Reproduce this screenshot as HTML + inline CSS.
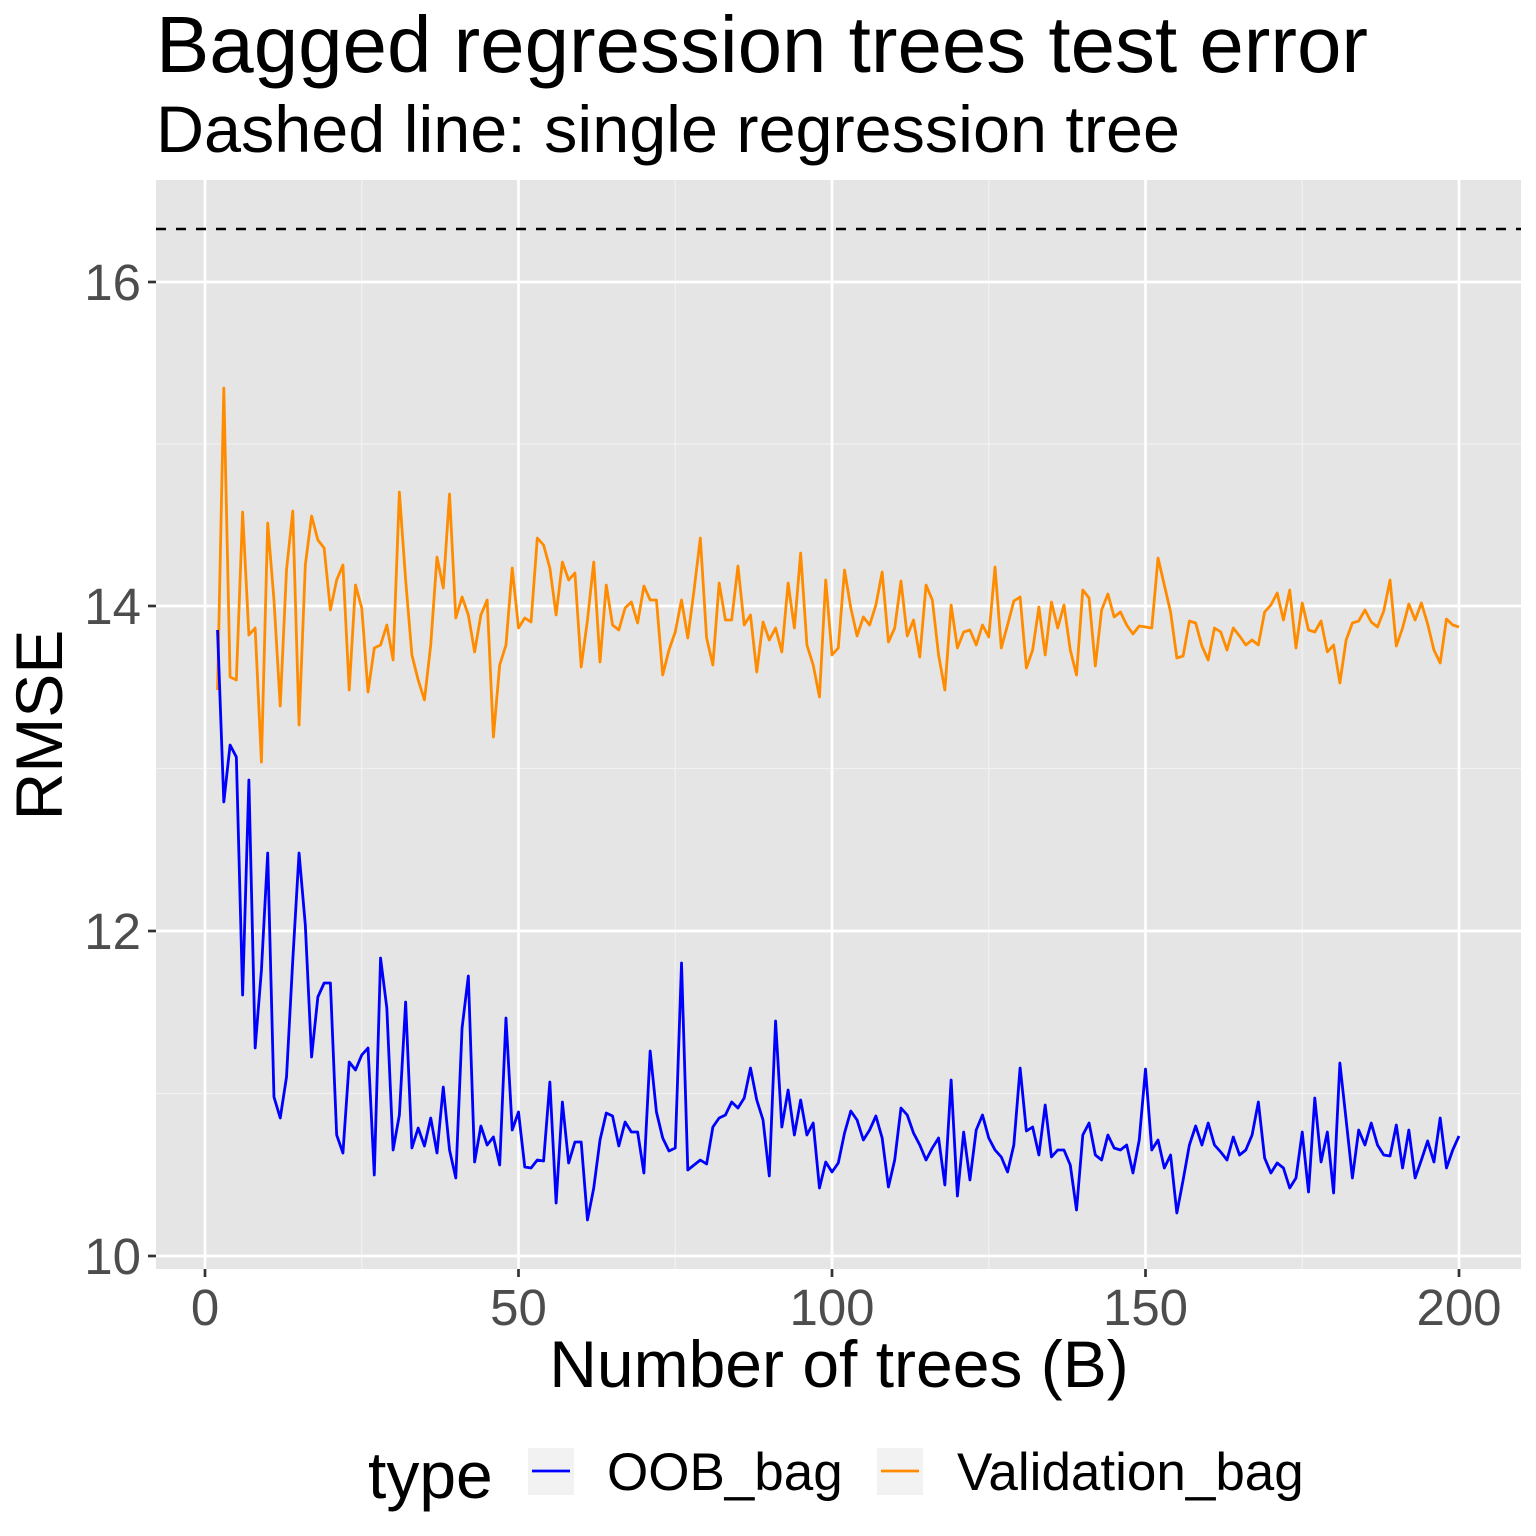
<!DOCTYPE html>
<html><head><meta charset="utf-8"><style>body{margin:0;background:#fff}svg{display:block}text{font-family:"Liberation Sans",Arial,sans-serif}</style></head>
<body>
<svg width="1536" height="1536" viewBox="0 0 1536 1536" xmlns="http://www.w3.org/2000/svg">
<rect x="0" y="0" width="1536" height="1536" fill="#fff"/>
<text x="156" y="72" font-size="80" textLength="1212" lengthAdjust="spacingAndGlyphs">Bagged regression trees test error</text>
<text x="156" y="152" font-size="66" textLength="1024" lengthAdjust="spacingAndGlyphs">Dashed line: single regression tree</text>
<rect x="156" y="180" width="1365" height="1089" fill="#e5e5e5"/>
<g stroke="#f2f2f2" stroke-width="1.3">
<line x1="156" x2="1521" y1="444" y2="444"/><line x1="156" x2="1521" y1="768.5" y2="768.5"/><line x1="156" x2="1521" y1="1093.5" y2="1093.5"/>
<line y1="180" y2="1269" x1="361.75" x2="361.75"/><line y1="180" y2="1269" x1="675.25" x2="675.25"/><line y1="180" y2="1269" x1="988.75" x2="988.75"/><line y1="180" y2="1269" x1="1302.25" x2="1302.25"/>
</g>
<g stroke="#fff" stroke-width="2.7">
<line x1="156" x2="1521" y1="282" y2="282"/><line x1="156" x2="1521" y1="606" y2="606"/><line x1="156" x2="1521" y1="931" y2="931"/><line x1="156" x2="1521" y1="1256" y2="1256"/>
<line y1="180" y2="1269" x1="205" x2="205"/><line y1="180" y2="1269" x1="518.5" x2="518.5"/><line y1="180" y2="1269" x1="832" x2="832"/><line y1="180" y2="1269" x1="1145.5" x2="1145.5"/><line y1="180" y2="1269" x1="1459" x2="1459"/>
</g>
<line x1="156" x2="1521" y1="229" y2="229" stroke="#000" stroke-width="2.5" stroke-dasharray="10,10"/>
<g transform="translate(205,0) scale(6.27,1)" fill="none" stroke-width="2.8" stroke-linejoin="round">
<polyline vector-effect="non-scaling-stroke" stroke="#ff8c00" points="2,690 3,388 4,677 5,680 6,512 7,635 8,628 9,762 10,523 11,600 12,706 13,570 14,511 15,725 16,565 17,516 18,540 19,548 20,610 21,580 22,565 23,690 24,585 25,608 26,692 27,648 28,645 29,625 30,660 31,492 32,580 33,655 34,680 35,700 36,645 37,557 38,588 39,494 40,618 41,597 42,615 43,652 44,615 45,600 46,737 47,665 48,645 49,568 50,628 51,618 52,622 53,538 54,545 55,568 56,615 57,562 58,580 59,573 60,667 61,620 62,562 63,662 64,585 65,625 66,630 67,608 68,602 69,623 70,586 71,600 72,600 73,675 74,650 75,632 76,600 77,638 78,590 79,538 80,638 81,665 82,583 83,620 84,620 85,566 86,625 87,615 88,672 89,622 90,640 91,628 92,652 93,583 94,628 95,553 96,645 97,665 98,697 99,580 100,655 101,648 102,570 103,608 104,636 105,617 106,625 107,605 108,572 109,642 110,628 111,581 112,636 113,620 114,657 115,585 116,600 117,655 118,690 119,605 120,648 121,632 122,630 123,645 124,625 125,637 126,567 127,648 128,625 129,601 130,597 131,668 132,650 133,607 134,655 135,602 136,628 137,605 138,650 139,675 140,590 141,598 142,666 143,610 144,594 145,617 146,612 147,625 148,634 149,626 150,627 151,628 152,558 153,585 154,612 155,658 156,656 157,621 158,623 159,646 160,660 161,628 162,632 163,650 164,628 165,636 166,645 167,640 168,645 169,612 170,605 171,593 172,620 173,590 174,648 175,603 176,630 177,632 178,621 179,652 180,645 181,683 182,640 183,623 184,621 185,610 186,622 187,627 188,611 189,580 190,646 191,628 192,604 193,620 194,603 195,624 196,650 197,663 198,619 199,625 200,627"/>
<polyline vector-effect="non-scaling-stroke" stroke="#0000ff" points="2,630 3,802 4,745 5,757 6,995 7,780 8,1048 9,970 10,853 11,1097 12,1118 13,1077 14,960 15,853 16,925 17,1057 18,997 19,983 20,983 21,1135 22,1153 23,1062 24,1070 25,1055 26,1048 27,1175 28,958 29,1008 30,1150 31,1115 32,1002 33,1148 34,1128 35,1146 36,1118 37,1153 38,1087 39,1150 40,1178 41,1028 42,976 43,1162 44,1126 45,1145 46,1137 47,1165 48,1018 49,1130 50,1112 51,1167 52,1168 53,1160 54,1161 55,1082 56,1203 57,1102 58,1163 59,1142 60,1142 61,1220 62,1188 63,1140 64,1113 65,1116 66,1146 67,1122 68,1132 69,1132 70,1173 71,1051 72,1112 73,1138 74,1151 75,1148 76,963 77,1170 78,1165 79,1160 80,1164 81,1127 82,1118 83,1115 84,1102 85,1108 86,1098 87,1068 88,1100 89,1120 90,1176 91,1021 92,1127 93,1090 94,1135 95,1100 96,1135 97,1123 98,1188 99,1162 100,1172 101,1163 102,1133 103,1111 104,1120 105,1140 106,1130 107,1116 108,1138 109,1187 110,1160 111,1108 112,1115 113,1133 114,1145 115,1160 116,1148 117,1138 118,1185 119,1080 120,1196 121,1132 122,1180 123,1130 124,1115 125,1138 126,1150 127,1157 128,1172 129,1145 130,1068 131,1131 132,1127 133,1155 134,1105 135,1157 136,1150 137,1150 138,1165 139,1210 140,1135 141,1123 142,1155 143,1160 144,1135 145,1148 146,1150 147,1145 148,1173 149,1140 150,1069 151,1150 152,1140 153,1168 154,1155 155,1213 156,1180 157,1145 158,1126 159,1145 160,1123 161,1145 162,1152 163,1160 164,1137 165,1155 166,1150 167,1135 168,1102 169,1158 170,1173 171,1163 172,1168 173,1188 174,1178 175,1132 176,1192 177,1098 178,1162 179,1132 180,1193 181,1063 182,1120 183,1178 184,1130 185,1145 186,1123 187,1145 188,1155 189,1156 190,1125 191,1168 192,1130 193,1178 194,1160 195,1141 196,1162 197,1118 198,1168 199,1150 200,1136"/>
</g>
<g stroke="#333" stroke-width="2.7">
<line x1="148" x2="156" y1="282" y2="282"/><line x1="148" x2="156" y1="606" y2="606"/><line x1="148" x2="156" y1="931" y2="931"/><line x1="148" x2="156" y1="1256" y2="1256"/>
<line y1="1269" y2="1277" x1="205" x2="205"/><line y1="1269" y2="1277" x1="518.5" x2="518.5"/><line y1="1269" y2="1277" x1="832" x2="832"/><line y1="1269" y2="1277" x1="1145.5" x2="1145.5"/><line y1="1269" y2="1277" x1="1459" x2="1459"/>
</g>
<g font-size="51" fill="#4d4d4d" text-anchor="end">
<text x="141" y="300">16</text><text x="141" y="624">14</text><text x="141" y="949">12</text><text x="141" y="1274">10</text>
</g>
<g font-size="51" fill="#4d4d4d" text-anchor="middle">
<text x="205" y="1325">0</text><text x="518.5" y="1325">50</text><text x="832" y="1325">100</text><text x="1145.5" y="1325">150</text><text x="1459" y="1325">200</text>
</g>
<text x="839" y="1387" font-size="66" text-anchor="middle">Number of trees (B)</text>
<text transform="translate(62,725) rotate(-90)" font-size="66" text-anchor="middle">RMSE</text>
<text x="368" y="1498" font-size="66">type</text>
<rect x="528" y="1448" width="46" height="47" fill="#f2f2f2"/>
<line x1="532" x2="570" y1="1471" y2="1471" stroke="#0000ff" stroke-width="2.8"/>
<text x="607" y="1490" font-size="53">OOB_bag</text>
<rect x="877" y="1448" width="46" height="47" fill="#f2f2f2"/>
<line x1="881" x2="919" y1="1471" y2="1471" stroke="#ff8c00" stroke-width="2.8"/>
<text x="957" y="1490" font-size="53">Validation_bag</text>
</svg>
</body></html>
